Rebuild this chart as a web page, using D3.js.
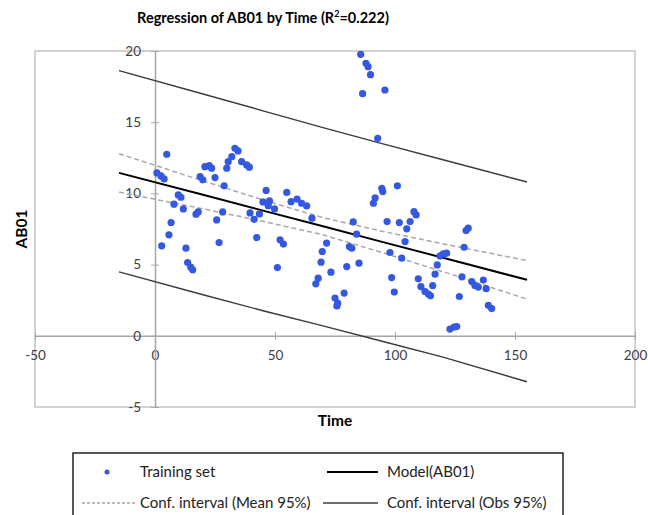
<!DOCTYPE html>
<head>
<meta charset="utf-8">
<script src="https://d3js.org/d3.v7.min.js"></script>
<title>Regression of AB01 by Time</title>
<style>
  body { margin: 0; background: #fff; }
  svg { font-family: Lato, "Liberation Sans", sans-serif; }
</style>
</head>
<body>
<svg id="chart" width="648" height="515"></svg>
<script>
// training set (Time, AB01)
var times = [4.9,0.8,2.5,3.8,18.8,19.9,20.8,22.6,23.6,25,28.8,29.9,30.5,32,33.3,34.6,36.1,38.2,39.3,
  9.7,10.8,7.9,11.8,17.1,18,28.2,25.7,6.7,5.8,2.8,12.9,26.7,13.6,14.9,15.7,39.6,41.3,43.5,
  46.3,45,47.7,47.2,49.8,54.9,56.7,59.2,61.1,63.2,65.4,42.4,52.1,53.5,51,71.5,69.7,69.2,73.3,68,67,
  75,76.1,78.8,75.8,85.7,87.9,88.8,89.8,86.5,95.8,92.8,94.5,94.9,91.7,91,101,107.9,108.8,82.6,96.7,
  101.8,106.3,104.9,84,104.2,81,82,97.9,102.8,79.9,85,98.6,99.7,
  109.7,110.8,112.5,113.9,115.7,116.7,117.6,118.8,120.1,121.5,128.8,129.6,130.5,114.8,127.9,132,
  133.3,134.7,136.8,138,126.8,138.9,140.3,122.9,124.6,125.7];
var values = [12.75,11.44,11.23,11.02,11.18,10.95,11.88,11.95,11.77,11.11,10.53,11.77,12.23,12.58,13.17,12.98,12.23,12.0,11.84,
  9.89,9.73,9.24,8.91,8.54,8.7,8.7,8.14,7.95,7.09,6.32,6.15,6.55,5.14,4.82,4.63,8.63,8.18,8.56,
  10.21,9.4,9.47,9.14,8.91,10.07,9.42,9.6,9.31,9.12,8.26,6.9,6.74,6.44,4.79,6.51,5.92,5.17,4.47,4.05,3.65,
  2.65,2.29,3.0,2.1,19.77,19.14,18.9,18.34,17.0,17.26,13.87,10.36,10.13,9.68,9.31,10.53,8.72,8.49,8.0,8.02,
  7.95,8.02,7.51,7.14,6.62,6.27,6.15,5.85,5.45,4.86,5.1,4.09,3.07,
  4.0,3.46,3.11,2.93,3.53,4.33,4.98,5.61,5.75,5.8,6.22,7.39,7.56,2.81,4.14,3.81,
  3.54,3.42,3.91,3.31,2.76,2.14,1.91,0.47,0.61,0.65];

// model and confidence bands, read at these times
var lineTimes = [-15, 20, 45, 70, 95, 120, 155];
var model     = [11.44, 9.90, 8.79, 7.69, 6.58, 5.48, 3.93];
var meanHigh  = [12.79, 10.88, 9.54, 8.29, 7.33, 6.46, 5.28];
var meanLow   = [10.09, 8.92, 8.04, 7.09, 5.83, 4.50, 2.58];
var obsHigh   = [18.62, 16.98, 15.80, 14.62, 13.48, 12.36, 10.80];
var obsLow    = [4.49, 2.88, 1.76, 0.70, -0.40, -1.50, -3.23];

var xTicks = [-50, 0, 50, 100, 150, 200];
var yTicks = [-5, 0, 5, 10, 15, 20];

var svg = d3.select("#chart");
var x = d3.scaleLinear().domain([-50, 200]).range([35, 635]);
var y = d3.scaleLinear().domain([-5, 20]).range([407, 51]);
var plain = function(d) { return String(d); };

// plot area frame
svg.append("rect")
  .attr("x", x(-50)).attr("y", y(20))
  .attr("width", x(200) - x(-50)).attr("height", y(-5) - y(20))
  .attr("fill", "none").attr("stroke", "#c4c4c4").attr("stroke-width", 1.5);

// axes through the origin
var xAxis = svg.append("g")
  .attr("transform", "translate(0," + y(0) + ")")
  .call(d3.axisBottom(x).tickValues(xTicks).tickFormat(plain).tickSize(4).tickPadding(11).tickSizeOuter(0));
xAxis.selectAll(".tick line").attr("y1", -4);
var yAxis = svg.append("g")
  .attr("transform", "translate(" + x(0) + ",0)")
  .call(d3.axisLeft(y).tickValues(yTicks).tickFormat(plain).tickSize(4).tickPadding(10).tickSizeOuter(0));
yAxis.selectAll(".tick line").attr("x1", 4);
svg.selectAll(".domain").attr("stroke", "#a6a6a6").attr("stroke-width", 1.5);
svg.selectAll(".tick line").attr("stroke", "#a6a6a6");
svg.selectAll(".tick text").attr("fill", "#404040").style("font-size", "13.5px")
  .style("font-family", "Lato, 'Liberation Sans', sans-serif");

var line = d3.line().x(function(d) { return x(d[0]); }).y(function(d) { return y(d[1]); });
function pairs(arr) { return lineTimes.map(function(t, i) { return [t, arr[i]]; }); }

// observation interval
[obsHigh, obsLow].forEach(function(a) {
  svg.append("path").attr("d", line(pairs(a)))
    .attr("fill", "none").attr("stroke", "#3a3a3a").attr("stroke-width", 1.4);
});
// mean interval
[meanHigh, meanLow].forEach(function(a) {
  svg.append("path").attr("d", line(pairs(a)))
    .attr("fill", "none").attr("stroke", "#a8a8a8").attr("stroke-width", 1.5)
    .attr("stroke-dasharray", "5,3");
});
// model
svg.append("path").attr("d", line(pairs(model)))
  .attr("fill", "none").attr("stroke", "#000").attr("stroke-width", 2);

// points
svg.append("g").selectAll("circle")
  .data(times)
  .enter().append("circle")
  .attr("cx", function(d) { return x(d); })
  .attr("cy", function(d, i) { return y(values[i]); })
  .attr("r", 3.6)
  .attr("fill", "#3558e0");

// titles
svg.append("text").attr("x", 263).attr("y", 23).attr("text-anchor", "middle")
  .attr("font-weight", 700).attr("font-size", "14.5px")
  .html("Regression of AB01 by Time (R<tspan font-size='9px' dy='-6'>2</tspan><tspan dy='6'>=0.222)</tspan>");
svg.append("text").attr("x", 335).attr("y", 426).attr("text-anchor", "middle")
  .attr("font-weight", 700).attr("font-size", "15.5px").text("Time");
svg.append("text").attr("transform", "translate(27,229) rotate(-90)").attr("text-anchor", "middle")
  .attr("font-weight", 700).attr("font-size", "15.5px").text("AB01");

// legend
var lg = svg.append("g");
lg.append("rect").attr("x", 73).attr("y", 453).attr("width", 490).attr("height", 70)
  .attr("fill", "none").attr("stroke", "#222").attr("stroke-width", 1.5);
lg.append("circle").attr("cx", 107).attr("cy", 472).attr("r", 2.5).attr("fill", "#3558e0");
lg.append("line").attr("x1", 327).attr("x2", 378).attr("y1", 472).attr("y2", 472)
  .attr("stroke", "#000").attr("stroke-width", 2);
lg.append("line").attr("x1", 82).attr("x2", 135).attr("y1", 503).attr("y2", 503)
  .attr("stroke", "#a8a8a8").attr("stroke-width", 1.5).attr("stroke-dasharray", "3,2");
lg.append("line").attr("x1", 323).attr("x2", 378).attr("y1", 503).attr("y2", 503)
  .attr("stroke", "#6e6e6e").attr("stroke-width", 2);
var legendText = [["Training set", 140, 472], ["Model(AB01)", 387, 472],
  ["Conf. interval (Mean 95%)", 140, 503], ["Conf. interval (Obs 95%)", 387, 503]];
legendText.forEach(function(t) {
  lg.append("text").attr("x", t[1]).attr("y", t[2]).attr("dy", "0.35em")
    .attr("font-size", "15px").attr("fill", "#222").text(t[0]);
});
</script>
</body>
</html>
